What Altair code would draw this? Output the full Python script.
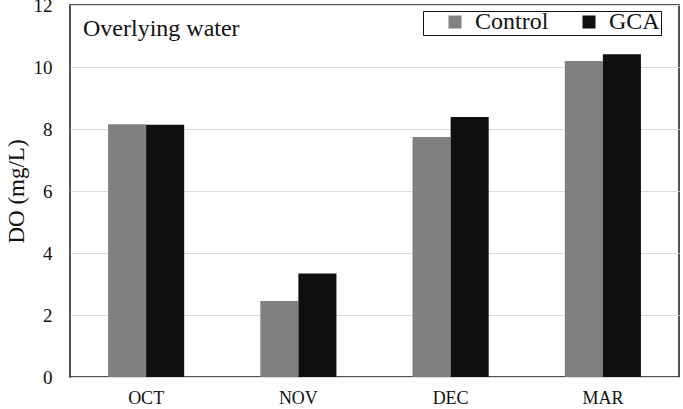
import altair as alt
import pandas as pd

months = ["OCT", "NOV", "DEC", "MAR"]
control = [8.15, 2.45, 7.74, 10.19]
gca = [8.14, 3.34, 8.39, 10.41]
series_names = ["Control", "GCA"]
series_colors = ["#808080", "#0f0f0f"]
y_ticks = [0, 2, 4, 6, 8, 10, 12]

rows = []
for m, c, g in zip(months, control, gca):
    rows.append({"month": m, "series": "Control", "value": c})
    rows.append({"month": m, "series": "GCA", "value": g})
df = pd.DataFrame(rows)

FONT = "Liberation Serif"

bars = alt.Chart(df).mark_bar().encode(
    x=alt.X("month:N", sort=months,
            scale=alt.Scale(paddingInner=0.5, paddingOuter=0.25),
            axis=alt.Axis(title=None, labelAngle=0, ticks=False, domain=False,
                          labelPadding=12, labelFont=FONT, labelFontSize=18,
                          labelColor="#111")),
    xOffset=alt.XOffset("series:N", sort=series_names,
                        scale=alt.Scale(paddingInner=0, paddingOuter=0)),
    y=alt.Y("value:Q", scale=alt.Scale(domain=[0, 12], nice=False),
            axis=alt.Axis(title="DO (mg/L)", values=y_ticks, ticks=False, domain=False,
                          labelPadding=18, labelFont=FONT, labelFontSize=19,
                          labelColor="#111", titleFont=FONT, titleFontSize=23,
                          titleFontWeight="normal", titleColor="#111", titlePadding=5,
                          grid=True, gridColor="#dcdcdc", gridWidth=1)),
    color=alt.Color("series:N", sort=series_names,
                    scale=alt.Scale(domain=series_names, range=series_colors),
                    legend=alt.Legend(title="\u00a0", titleOrient="left", titleFontSize=8,
                                      titlePadding=19,
                                      orient="none", legendX=353, legendY=6,
                                      direction="horizontal", symbolType="square",
                                      symbolSize=169, symbolStrokeWidth=0,
                                      labelFont=FONT, labelFontSize=24, labelColor="#111",
                                      labelExpr="datum.label == 'GCA' ? 'GCA\u00a0\u00a0\u00a0' : datum.label",
                                      labelOffset=8, columnPadding=28, clipHeight=20,
                                      strokeColor="#111", padding=1,
                                      fillColor="white")),
)

note = alt.Chart(pd.DataFrame({"t": ["Overlying water"]})).mark_text(
    align="left", baseline="alphabetic", font=FONT, fontSize=24, color="#111"
).encode(text="t:N", x=alt.value(13), y=alt.value(31))

chart = alt.layer(bars, note).properties(
    width=609, height=372,
    autosize=alt.AutoSizeParams(type="none"),
    padding={"left": 70, "top": 5, "right": 4, "bottom": 32},
).configure_view(stroke="#1a1a1a", strokeWidth=1.5).configure_axis(
    gridColor="#dcdcdc"
)

chart.save("out.html", embed_options={"renderer": "svg", "actions": False})
